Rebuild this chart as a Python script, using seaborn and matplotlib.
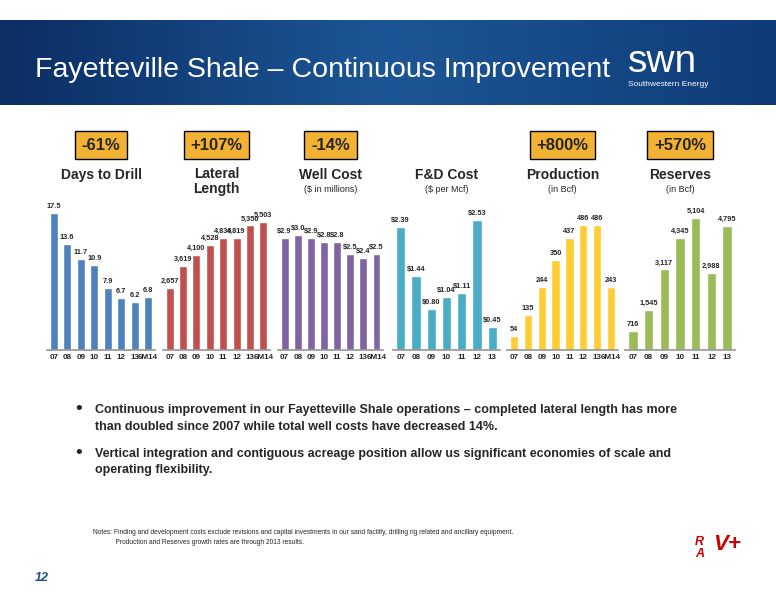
import matplotlib
matplotlib.use("Agg")
import matplotlib.pyplot as plt
import numpy as np
import pandas as pd
import seaborn as sns
from matplotlib.colors import LinearSegmentedColormap

sns.set_theme(style="white")
plt.rcParams['font.family'] = ['Liberation Sans', 'DejaVu Sans']

yrs8 = ["07", "08", "09", "10", "11", "12", "13", "6M14"]
yrs7 = ["07", "08", "09", "10", "11", "12", "13"]
days = [17.5, 13.6, 11.7, 10.9, 7.9, 6.7, 6.2, 6.8]
lateral = [2657, 3619, 4100, 4528, 4836, 4819, 5356, 5503]
wellcost = [2.9, 3.0, 2.9, 2.8, 2.8, 2.5, 2.4, 2.5]
fd = [2.39, 1.44, 0.80, 1.04, 1.11, 2.53, 0.45]
production = [54, 135, 244, 350, 437, 486, 486, 243]
reserves = [716, 1545, 3117, 4345, 5104, 2988, 4795]

W, H = 776, 600
fig = plt.figure(figsize=(W/100, H/100), dpi=100)

def px(x, y):
    return x / W, 1 - y / H

hax = fig.add_axes([0, 1-105/H, 1, 85/H])
grad = np.linspace(0, 1, 256).reshape(1, -1)
cm = LinearSegmentedColormap.from_list("h", ["#0b2e63", "#1d5696", "#0f3b78"])
hax.imshow(grad, aspect="auto", cmap=cm, extent=[0, 1, 0, 1])
hax.axis("off")
fig.text(*px(35, 70), "Fayetteville Shale – Continuous Improvement", color="white", fontsize=20.5, va="center")
fig.text(*px(628, 62), "swn", color="white", fontsize=28, va="center")
fig.text(*px(628, 85), "Southwestern Energy", color="white", fontsize=6, va="center")

specs = [
    (47, 155, days, yrs8, "#4F81BD", 19.2, lambda v: f"{v:.1f}", "Days to Drill", "", "-61%"),
    (163, 270, lateral, yrs8, "#C0504D", 6450, lambda v: f"{v:,}", "Lateral\nLength", "", "+107%"),
    (278, 383, wellcost, yrs8, "#8064A2", 3.9, lambda v: f"${v:.1f}", "Well Cost", "($ in millions)", "-14%"),
    (393, 500, fd, yrs7, "#4BACC6", 2.92, lambda v: f"${v:.2f}", "F&D Cost", "($ per Mcf)", None),
    (507, 618, production, yrs8, "#FFCC33", 583, lambda v: f"{v}", "Production", "(in Bcf)", "+800%"),
    (625, 735, reserves, yrs7, "#9BBB59", 5800, lambda v: f"{v:,}", "Reserves", "(in Bcf)", "+570%"),
]

for x0, x1, vals, cats, col, ymax, fmt, title, sub, pct in specs:
    l, b = px(x0, 350)
    ax = fig.add_axes([l, b, (x1-x0)/W, 150/H])
    df = pd.DataFrame({"cat": cats, "val": vals})
    sns.barplot(data=df, x="cat", y="val", color=col, width=0.6, ax=ax, saturation=1)
    ax.set_ylim(0, ymax)
    ax.set_xlabel(""); ax.set_ylabel("")
    ax.set_yticks([])
    for s in ["top", "right", "left"]:
        ax.spines[s].set_visible(False)
    ax.spines["bottom"].set_color("#999999")
    ax.tick_params(axis="x", labelsize=5.8, length=0, pad=3)
    for lab in ax.get_xticklabels():
        lab.set_fontweight("bold")
    for i, v in enumerate(vals):
        ax.text(i, v + ymax*0.02, fmt(v), ha="center", va="bottom", fontsize=5.3, fontweight="bold")
    cx = (x0 + x1) / 2
    if "\n" in title:
        fig.text(*px(cx, 167), title, ha="center", va="top", fontsize=10, fontweight="bold", linespacing=1.05)
    else:
        fig.text(*px(cx, 175), title, ha="center", va="center", fontsize=10, fontweight="bold")
    if sub:
        fig.text(*px(cx, 190), sub, ha="center", va="center", fontsize=6.5)
    if pct:
        fig.text(*px(cx, 145), pct, ha="center", va="center", fontsize=12, fontweight="bold",
                 bbox=dict(boxstyle="square,pad=0.4", fc="#F2B233", ec="black", lw=1))

fig.text(*px(75, 410), "•", fontsize=14, va="center")
fig.text(*px(95, 404), "Continuous improvement in our Fayetteville Shale operations – completed lateral length has more\nthan doubled since 2007 while total well costs have decreased 14%.",
         fontsize=9, fontweight="bold", va="top", linespacing=1.5)
fig.text(*px(75, 454), "•", fontsize=14, va="center")
fig.text(*px(95, 448), "Vertical integration and contiguous acreage position allow us significant economies of scale and\noperating flexibility.",
         fontsize=9, fontweight="bold", va="top", linespacing=1.5)
fig.text(*px(93, 537), "Notes: Finding and development costs exclude revisions and capital investments in our sand facility, drilling rig related and ancillary equipment.\n            Production and Reserves growth rates are through 2013 results.",
         fontsize=4.8, va="center", linespacing=1.6)
fig.text(*px(35, 578), "12", fontsize=9, fontweight="bold", style="italic", color="#1d4f8f", va="center")
fig.text(*px(695, 548), "R\nA", fontsize=9, fontweight="bold", style="italic", color="#cc0000", va="center", linespacing=0.9)
fig.text(*px(713, 545), "V+", fontsize=16, fontweight="bold", style="italic", color="#cc0000", va="center")

fig.savefig("out.png", dpi=100)
